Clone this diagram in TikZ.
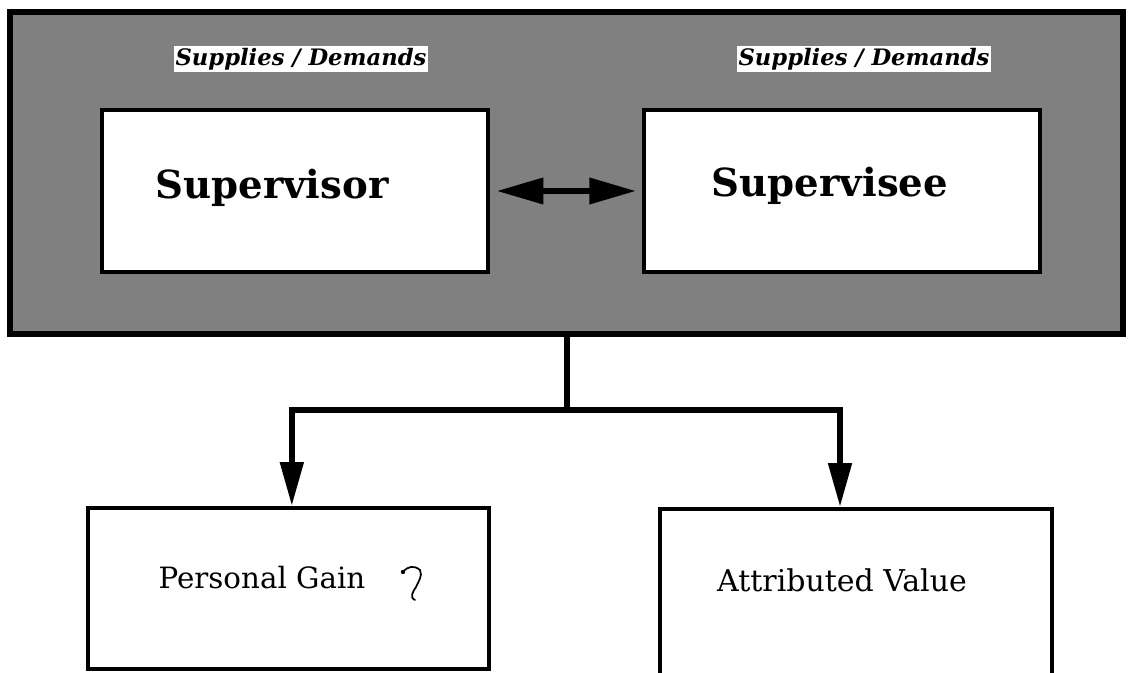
\documentclass[tikz,border=0pt]{standalone}
\usepackage{fontspec}
\setmainfont{DejaVu Serif}
\usetikzlibrary{arrows.meta}

\begin{document}
\begin{tikzpicture}[x=0.75pt,y=0.75pt,yscale=-1,
	box/.style={draw,line width=3pt,fill=white,inner sep=0pt},
	sdtag/.style={fill=white,inner sep=1.5pt,font=\fontsize{17}{19}\selectfont\bfseries\itshape},
	wire/.style={line width=4.5pt},
	downtip/.style={-{Triangle[length=33pt,width=17pt]}},
	sidetip/.style={{Triangle[length=35pt,width=19pt]}-{Triangle[length=35pt,width=19pt]}}]
	%page is 1128 x 673, lower boxes run off the bottom
	\path[use as bounding box,clip] (0,0) rectangle (1128,673);
	
	\node (dyad) [draw,line width=4.5pt,fill=gray,minimum width=834.75pt,minimum height=241.5pt] at (566.5,173) {};
	\node (supervisor) [box,minimum width=289.5pt,minimum height=121.5pt] at (295,191) {};
	\node (supervisee) [box,minimum width=297pt,minimum height=121.5pt] at (842,191) {};
	\node (tagleft) [sdtag] at (301,59) {Supplies / Demands};
	\node (tagright) [sdtag] at (864,59) {Supplies / Demands};
	\node (supervisortext) [font=\fontsize{29}{33}\selectfont\bfseries] at (272,188) {Supervisor};
	\node (superviseetext) [font=\fontsize{29}{33}\selectfont\bfseries] at (830,186) {Supervisee};
	
	\draw [line width=4.5pt,sidetip,shorten <=5pt,shorten >=4.5pt] (supervisor.east) -- (supervisee.west);
	
	\node (gain) [box,minimum width=300.75pt,minimum height=120.75pt] at (288.5,588.5) {};
	\node (value) [box,minimum width=294pt,minimum height=143.25pt] at (856,604.5) {};
	\node (gaintext) [font=\fontsize{22}{26}\selectfont] at (262,578) {Personal Gain};
	\node (valuetext) [font=\fontsize{22.5}{26}\selectfont] at (842,580) {Attributed Value};
	
	\coordinate (split) at (566.5,410);
	\draw [wire] (dyad.south) -- (split);
	\draw [wire,downtip] (split) -| ([xshift=2.5pt]gain.north);
	\draw [wire,downtip] (split) -| ([xshift=-12pt]value.north);
	
	%pen mark beside the left label
	\draw [line width=1.3pt,line cap=round] (403,572) .. controls (408,566) and (414,565) .. (420,570) .. controls (423,576) and (418,582) .. (416,587) .. controls (413,592) and (409,597) .. (415,600);
	\fill (403,572) circle [radius=2.2];
	
\end{tikzpicture}
\end{document}
